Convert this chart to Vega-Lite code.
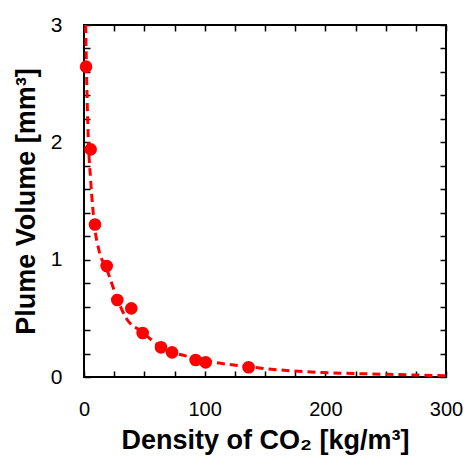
{
  "$schema": "https://vega.github.io/schema/vega-lite/v6.json",
  "width": 362,
  "height": 352,
  "autosize": {"type": "none"},
  "padding": {"left": 84, "top": 25, "right": 20, "bottom": 83},
  "background": "white",
  "config": {
    "view": {"stroke": "black", "strokeWidth": 2},
    "font": "Liberation Sans",
    "axis": {
      "grid": false,
      "domain": false,
      "offset": -6,
      "tickColor": "black",
      "tickWidth": 1.5,
      "tickSize": 6,
      "labelFlush": false,
      "labelOverlap": false,
      "labelFont": "Liberation Sans",
      "labelFontSize": 20,
      "labelColor": "black",
      "titleFont": "Liberation Sans",
      "titleFontSize": 27,
      "titleFontWeight": "bold",
      "titleColor": "black"
    }
  },
  "datasets": {
    "points": [
      {"density": 1.7, "volume": 2.645},
      {"density": 5.5, "volume": 1.94},
      {"density": 9.1, "volume": 1.30},
      {"density": 18.8, "volume": 0.946},
      {"density": 27.6, "volume": 0.656},
      {"density": 39.2, "volume": 0.585},
      {"density": 48.6, "volume": 0.375},
      {"density": 63.8, "volume": 0.253},
      {"density": 73.0, "volume": 0.21},
      {"density": 92.5, "volume": 0.145},
      {"density": 100.8, "volume": 0.125},
      {"density": 136.4, "volume": 0.083}
    ],
    "fit": [
      {"density": 1.4, "volume": 3.0},
      {"density": 2.0, "volume": 2.65},
      {"density": 3.6, "volume": 2.02},
      {"density": 5.5, "volume": 1.68},
      {"density": 8.6, "volume": 1.30},
      {"density": 12.4, "volume": 1.08},
      {"density": 18.8, "volume": 0.92},
      {"density": 27.6, "volume": 0.666},
      {"density": 34.5, "volume": 0.51},
      {"density": 48.6, "volume": 0.381},
      {"density": 63, "volume": 0.262},
      {"density": 72.7, "volume": 0.214},
      {"density": 92, "volume": 0.162},
      {"density": 104.4, "volume": 0.132},
      {"density": 136, "volume": 0.088},
      {"density": 170.7, "volume": 0.053},
      {"density": 198, "volume": 0.038},
      {"density": 250.8, "volume": 0.023},
      {"density": 300, "volume": 0.011}
    ]
  },
  "layer": [
    {
      "data": {"name": "fit"},
      "mark": {"type": "line", "color": "#FF0000", "strokeWidth": 3, "strokeDash": [8, 5], "interpolate": "monotone", "clip": true},
      "encoding": {
        "x": {"field": "density", "type": "quantitative", "scale": {"domain": [0, 300], "nice": false},
          "axis": {"orient": "bottom", "title": "Density of CO₂ [kg/m³]", "values": [0,25,50,75,100,125,150,175,200,225,250,275,300], "labelExpr": "datum.value % 100 == 0 ? datum.label : ''", "labelPadding": 22, "titlePadding": 8}},
        "y": {"field": "volume", "type": "quantitative", "scale": {"domain": [0, 3], "nice": false},
          "axis": {"orient": "left", "title": "Plume Volume [mm³]", "values": [0,0.2,0.4,0.6,0.8,1,1.2,1.4,1.6,1.8,2,2.2,2.4,2.6,2.8,3], "labelExpr": "datum.value % 1 == 0 ? '' + datum.value : ''", "labelFontSize": 21, "labelPadding": 22, "titlePadding": 10}}
      }
    },
    {
      "data": {"name": "points"},
      "mark": {"type": "circle", "color": "#FF0000", "opacity": 1, "size": 160},
      "encoding": {
        "x": {"field": "density", "type": "quantitative", "scale": {"domain": [0, 300], "nice": false},
          "axis": {"orient": "top", "title": null, "labels": false, "values": [0,25,50,75,100,125,150,175,200,225,250,275,300]}},
        "y": {"field": "volume", "type": "quantitative", "scale": {"domain": [0, 3], "nice": false},
          "axis": {"orient": "right", "title": null, "labels": false, "values": [0,0.2,0.4,0.6,0.8,1,1.2,1.4,1.6,1.8,2,2.2,2.4,2.6,2.8,3]}}
      }
    }
  ],
  "resolve": {"axis": {"x": "independent", "y": "independent"}}
}
